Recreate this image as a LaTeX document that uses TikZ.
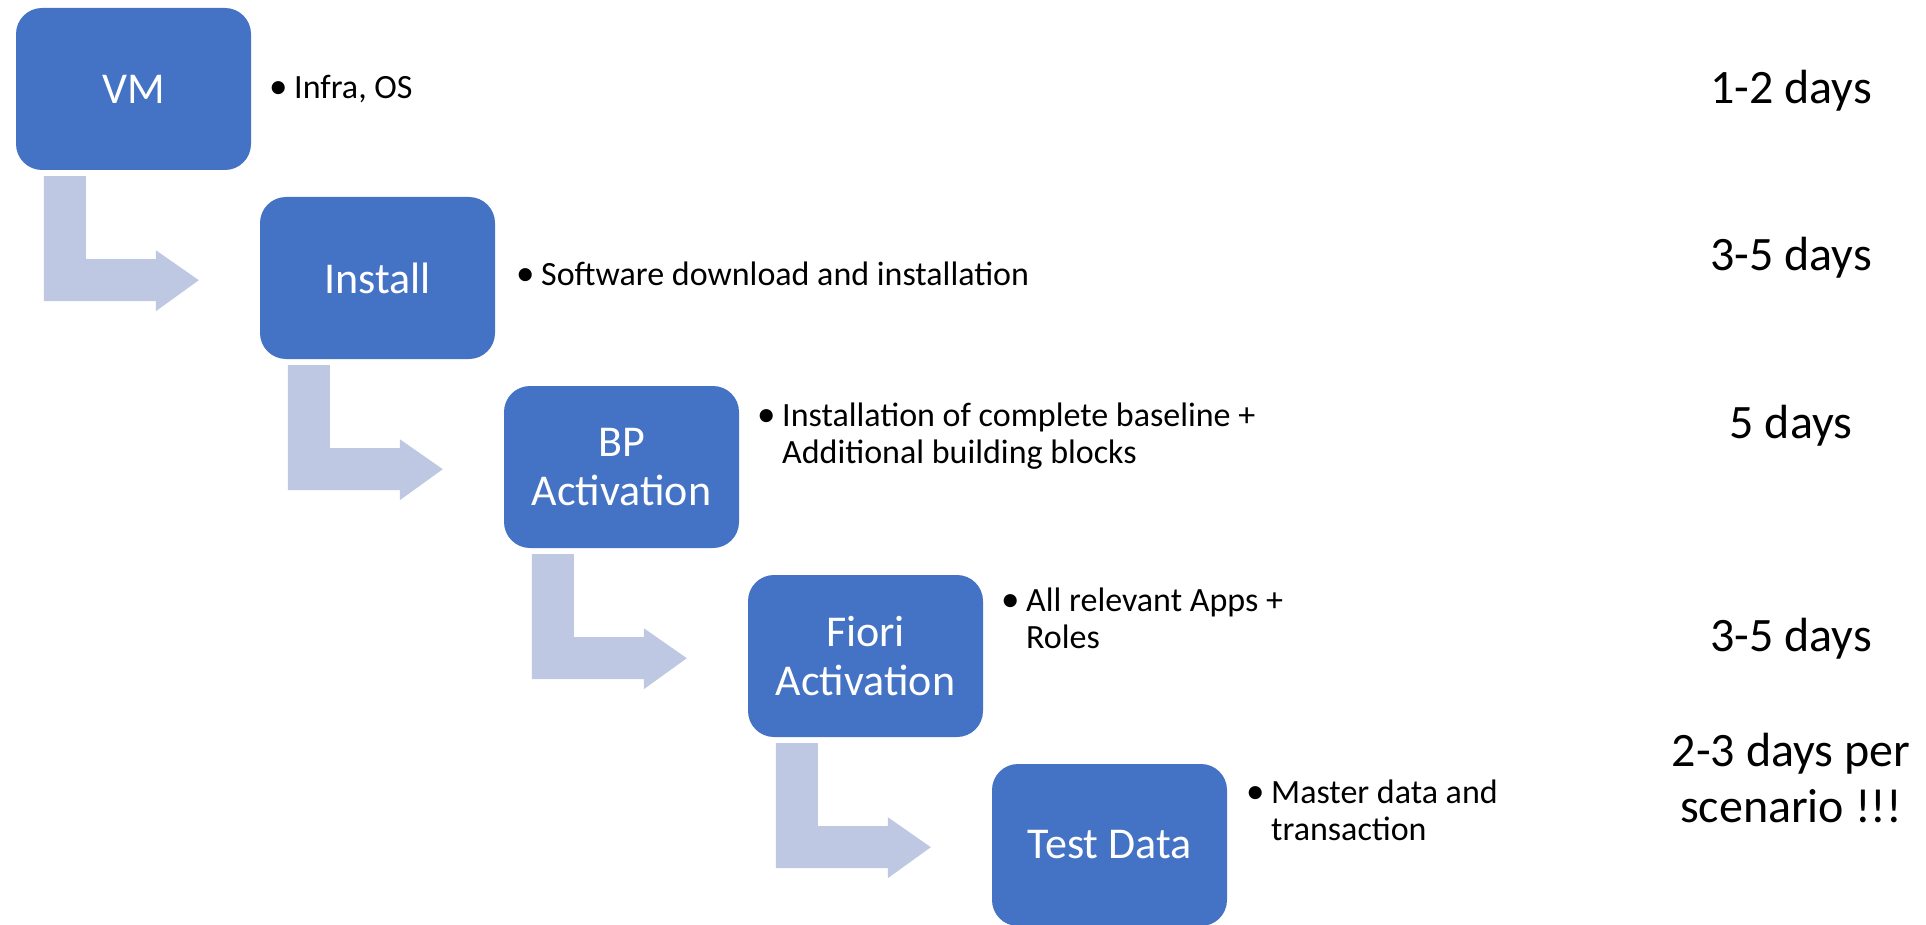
\documentclass[tikz,border=0pt]{standalone}
\usepackage{fontspec}
\setmainfont{Carlito}
\usetikzlibrary{calc}
\definecolor{boxblue}{RGB}{68,114,196}
\definecolor{arrowlav}{RGB}{191,200,227}
\tikzset{
  stepbox/.style={fill=boxblue, draw=none, rounded corners=26pt, minimum width=235pt, minimum height=162pt, inner sep=0pt, text=white, align=center, font=\fontsize{44}{49}\selectfont},
  bullettext/.style={anchor=base west, inner sep=0pt, align=left, text=black, font=\fontsize{34}{37}\selectfont},
  daytext/.style={anchor=base, inner sep=0pt, align=center, text=black, font=\fontsize{48}{56}\selectfont},
  bentarrow/.style={fill=arrowlav, draw=none}
}
\newcommand{\bul}{\makebox[22pt][l]{\hspace*{-3pt}{\fontsize{37}{37}\selectfont\textbullet}}}
\newcommand{\ind}{\hspace*{22pt}}
\begin{document}
\begin{tikzpicture}[x=1pt,y=-1pt]
\path[use as bounding box] (0,0) rectangle (1926,925);
% boxes
\node[stepbox] (vm) at (133.5,89) {VM};
\node[stepbox] (inst) at (377.5,278) {Install};
\node[stepbox] (bp) at (621.5,467) {BP\\Activation};
\node[stepbox] (fiori) at (865.5,656) {Fiori\\Activation};
\node[stepbox] (test) at (1109.5,845) {Test Data};
% bent arrows
\foreach \a in {vm,inst,bp,fiori}{
  \fill[bentarrow] ($(\a.south west)+(28,6)$) -- ($(\a.south west)+(70,6)$) -- ($(\a.south west)+(70,89)$) -- ($(\a.south west)+(140,89)$) -- ($(\a.south west)+(140,80)$) -- ($(\a.south west)+(183,110)$) -- ($(\a.south west)+(140,141)$) -- ($(\a.south west)+(140,131)$) -- ($(\a.south west)+(28,131)$) -- cycle;
}
% bullet texts
\node[bullettext] (bvm) at (272,99) {\bul Infra, OS};
\node[bullettext] (binst) at (519,285) {\bul Software download and installation};
\node[bullettext] (bbp) at (760,463) {\bul Installation of complete baseline +\\\ind Additional building blocks};
\node[bullettext] (bfiori) at (1004,648) {\bul All relevant Apps +\\\ind Roles};
\node[bullettext] (btest) at (1249,840) {\bul Master data and\\\ind transaction};
% durations
\node[daytext] (d1) at (1791,104) {1-2 days};
\node[daytext] (d2) at (1791,270) {3-5 days};
\node[daytext] (d3) at (1791,438) {5 days};
\node[daytext] (d4) at (1791,651) {3-5 days};
\node[daytext] (d5) at (1791,822) {2-3 days per\\scenario !!!};
\end{tikzpicture}
\end{document}
